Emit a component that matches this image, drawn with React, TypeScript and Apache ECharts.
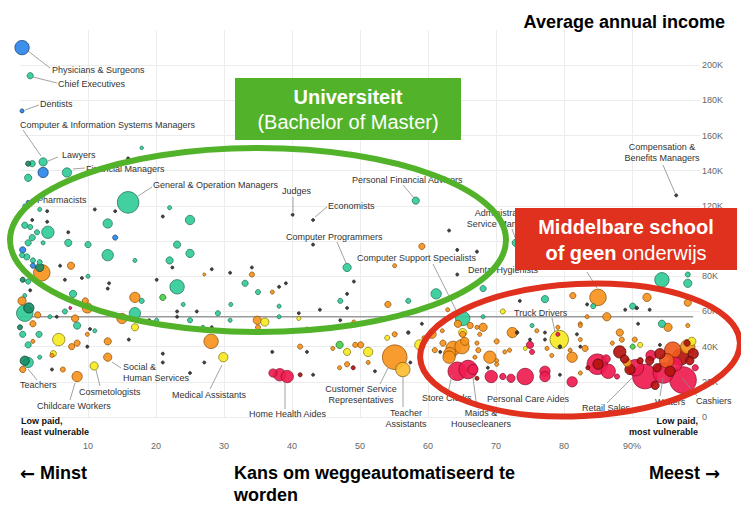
import React, { useEffect, useRef } from "react";
import * as echarts from "echarts";

// [automation probability %, average income (K$), employment (thousands)]
const bachelorGreen = [
  [1.5,194,280],[3.4,145,490],[1.8,144,280],[1.2,136,380],[6.9,139,625],[17.9,153,90],[15.9,122,3400],[0.7,120,120],[2.9,118,120],[0.7,109,280],[1.5,108,190],[4.1,105,1110],[1.8,102,280],[2.5,105,190],[1.2,99,280],[3.4,99,120],[0.3,92,190],[1,91,280],[1.9,89,190],[2.9,88,190],[1.2,77,190],[7.1,99,380],[10,98,280],[12.9,110,625],[12.9,92,930],[10,80,120],[16.9,89,120],[22,119,120],[25,112,625],[23.1,98,380],[25,93,490],[22,89,380],[23.1,74,1510],[33.1,76,280],[0.7,69,120],[0.7,59,1980],[7.8,70,380],[6.6,60,190],[4.4,57,120],[8.4,52,380],[17.9,66,190],[16.9,59,930],[20.1,55,120],[24,64,120],[25,55,190],[29.1,59,190],[31,64,120],[30.9,55,120],[26.9,51,120],[11,49,120],[0.4,47,280],[2.8,47,280],[1.2,41,280],[1.2,31,770],[2.9,34,120],[65.1,56,1510],[61.2,70,770],[57.1,66,190],[68.1,73,280],[77.2,67,380],[75.3,52,120],[94.4,78,1510],[98.2,76,490],[98.2,81,190],[90.1,63,280],[84.3,63,190],[68.1,57,120],[94.4,53,380],[72.9,99,380],[47.1,66,190],[38.1,63,120],[38.1,57,120],[35,71,190],[48.1,85,490],[58.2,123,380]
];
const darkTeal = [[1.2,144,190],[2.9,85,490],[0.4,78,190],[1.3,62,770],[0,51,190],[0.7,32,625]];
const doctoralBlue = [[0.3,210,1510],[0.3,174,120],[3.4,139,770],[1.2,122,120],[0.4,95,280],[1.9,86,190],[14,102,190]];
const orangeJobs = [
  [3.2,82,1980],[7.5,86,380],[27.1,81,60],[34.1,81,190],[0.3,66,490],[2.6,58,280],[1.9,53,280],[9.6,66,280],[9.9,62,770],[8.1,56,380],[16.9,68,770],[15,56,770],[28.1,43,1510],[34.9,55,490],[35,51,190],[12.9,43,380],[12.9,34,490],[1.9,43,120],[0.4,27,280],[4.7,35,120],[6.3,27,190],[7.6,40,280],[8.4,42,280],[9.9,47,120],[8.4,23,770],[41.2,40,190],[46,39,120],[49.3,41,190],[50.1,41,280],[47,28,120],[48.1,30,190],[51.2,31,120],[55.1,34,4440],[55.1,47,190],[61,38,190],[62.2,42,280],[63.2,36,1110],[63.7,39,1510],[65.1,47,280],[66.2,52,280],[67.2,51,120],[67.6,47,120],[62.9,61,120],[81.3,69,280],[59.4,45,120],[60.6,47,490],[62.1,49,120],[64.4,53,380],[65.4,43,490],[65,40,1510],[63.1,34,1110],[68.1,51,490],[67.2,42,120],[67.4,38,190],[66.9,34,120],[69.1,34,1110],[70.1,43,190],[72.4,48,770],[72,38,120],[71.3,37,120],[70.1,32,120],[70.1,30,120],[76,49,120],[77.5,39,120],[78.2,35,120],[80.9,38,120],[81.2,34,770],[82.4,53,120],[82.4,44,120],[82.4,25,120],[87.1,42,120],[89.3,31,490],[90.4,44,190],[88.2,48,380],[88.5,44,190],[83.1,39,280],[85,68,1980],[92.2,68,490],[98.2,65,380],[86.3,57,490],[83.4,57,120],[95.3,51,490],[98.2,52,120],[79.1,51,120],[82.4,52,120],[59.1,97,280],[55.1,86,120],[54.1,64,280],[49.1,54,120],[37.1,71,120],[42.2,50,120],[98.2,40,1510]
];
const yellowJobs = [[16.9,51,380],[36,54,490],[29.9,34,625],[4.9,36,280],[5.7,44,1110],[10.9,29,490],[48.1,37,380],[51.2,37,625],[54,45,190],[58.8,41,770],[71,60,190],[65.1,48,490],[74.3,39,120],[79.3,44,2500],[91.2,41,190],[41,56,120],[98.8,43,490]];
const amberJobs = [[56.3,27,1510]];
const redJobs = [[37.2,25,490],[38.2,24,1110],[39.3,23,1110],[64.3,26,2500],[65.9,27,2500],[66.6,27,770],[75,41,380],[79.1,47,120],[75.3,37,190],[69.3,23,1110],[71,23,280],[72.2,22,490],[74.3,23,1980],[77.2,26,770],[77.2,23,770],[81.2,20,770],[84.9,30,3090],[86.5,26,1510],[87.8,23,190],[91.9,23,4440],[94.6,25,3090],[97.5,21,5220],[99.3,28,280],[90.5,28,1980],[96.3,30,1510],[92.8,35,770],[86.2,33,490]];
const darkRedJobs = [[41.2,24,120],[49,28,120],[67.2,22,120],[83.5,28,120],[85,30,770],[88.2,37,1110],[93.7,28,490],[98.1,42,280],[97.1,34,1980],[98.5,32,490],[94.1,36,770],[89.7,27,770],[92.6,32,490],[95.6,26,770],[91.2,32,280],[93.4,18,490],[99,36,770],[88.9,33,490]];
const orangeRedJobs = [[96,38,1980],[95.1,32,1510]];
const lightGreenJobs = [[21,68,280],[47,41,380],[90.1,40,190]];
const magentaJobs = [[7.4,62,60]];
const tinyJobs = [
  [15.9,147,60],[4,117,60],[1.8,123,60],[1.8,112,60],[4,111,60],[7.1,105,60],[14,117,60],[11,118,60],[5.9,86,60],[6.6,78,60],[9.1,79,60],[13.1,76,60],[12.9,73,60],[21,114,60],[20.1,78,60],[22.4,85,60],[28.2,84,60],[30.9,82,60],[1.5,72,60],[5.4,57,60],[10.3,50,60],[19,55,60],[23.1,60,60],[23.1,57,60],[26,60,60],[28.2,51,60],[4.7,27,60],[9.9,40,60],[16,44,60],[21,36,60],[21,31,60],[25,25,60],[27.1,31,60],[37.1,37,60],[42.2,37,60],[43.1,24,60],[52.2,26,60],[57.4,31,60],[57.1,48,90],[59.1,53,60],[61.8,37,60],[83.4,64,60],[73.1,48,90],[77.2,44,60],[79.4,40,90],[81.9,47,60],[82.4,40,60],[68.8,28,60],[79.4,24,60],[94.1,41,60],[89,61,60],[92.6,61,60],[73.5,66,60],[90.9,53,60],[90.7,62,90],[77.2,48,60],[75,44,60],[96.5,126,60],[63.1,106,60],[64.3,95,60],[67.2,94,60],[64.3,81,60],[47.1,55,60],[48.1,70,60],[48.1,62,60],[49.1,77,60],[44.1,61,60],[41,59,60],[34.1,85,60],[38.1,74,60],[39.1,76,60],[40.1,115,60],[43.1,112,60],[43.1,98,60]
];
const averageIncome = 57;
const xTicks = [10, 20, 30, 40, 50, 60, 70, 80, 90];
const yHiddenTicks = [100, 220];

const groups: [number[][], string, string][] = [
  [bachelorGreen, "#33cc99", "#1d6e52"],
  [darkTeal, "#1a8c66", "#0c3d2c"],
  [doctoralBlue, "#2c86ea", "#123f73"],
  [orangeJobs, "#f7941d", "#8a4c05"],
  [yellowJobs, "#f6e925", "#7d7405"],
  [amberJobs, "#fbbd33", "#7d5a05"],
  [redJobs, "#ef1c50", "#8a0c2a"],
  [darkRedJobs, "#b5140f", "#4a0505"],
  [orangeRedJobs, "#ef5a1e", "#7a2405"],
  [lightGreenJobs, "#46d04b", "#1f6a22"],
  [magentaJobs, "#e8207e", "#6a0a38"],
  [tinyJobs, "#333333", "#222222"],
];

const FONT = "'Liberation Sans', Arial, sans-serif";
const ARROW_FONT = "'DejaVu Sans', sans-serif";

function txt(text: string, x: number, y: number, opts: any = {}) {
  return {
    type: "text", x, y, z: 50,
    style: {
      text, fill: opts.fill || "#333", fontSize: opts.size || 9, fontWeight: opts.weight || "normal",
      fontFamily: FONT, align: opts.align || "left", verticalAlign: "middle", rich: opts.rich,
    },
  };
}
function ln(x1: number, y1: number, x2: number, y2: number) {
  return { type: "line", z: 49, shape: { x1, y1, x2, y2 }, style: { stroke: "#8a8a8a", lineWidth: 0.8 } };
}

export default function App() {
  const ref = useRef<HTMLDivElement>(null);
  useEffect(() => {
    const chart = echarts.init(ref.current!, null, { renderer: "svg" });
    const points: any[] = [];
    groups.forEach(([arr, color, border]) => {
      arr.forEach((d) => points.push({ value: d, itemStyle: { color, borderColor: border } }));
    });
    points.sort((a, b) => b.value[2] - a.value[2]);

    const xSplitColors = Array.from({ length: 11 }, (_, i) => (i === 0 || i === 10 ? "rgba(0,0,0,0)" : "#ececec"));
    const ySplitColors = Array.from({ length: 12 }, (_, i) => (i === 11 ? "rgba(0,0,0,0)" : "#ececec"));
    const bigBold = { size: 18, weight: "bold", fill: "#000" };
    const arrowRich = {
      a: { fontSize: 18, fontWeight: "bold", fontFamily: ARROW_FONT, fill: "#000" },
      t: { fontSize: 18, fontWeight: "bold", fontFamily: FONT, fill: "#000" },
    };

    const graphic: any[] = [
      // annotations
      txt("Physicians & Surgeons", 52, 70), ln(28, 51, 50, 68),
      txt("Chief Executives", 58, 84), ln(33, 77, 57, 83),
      txt("Dentists", 40, 104), ln(25, 110, 39, 105),
      txt("Computer & Information Systems Managers", 20, 125), ln(23, 130, 41, 156),
      txt("Lawyers", 62, 155), ln(58, 157, 48, 161),
      txt("Financial Managers", 86, 169), ln(73, 169, 85, 168),
      txt("Pharmacists", 37, 200),
      txt("General & Operation Managers", 153, 185), ln(138, 196, 152, 187),
      txt("Judges", 282, 191), ln(293, 197, 293, 212),
      txt("Economists", 328, 206), ln(315, 217, 327, 207),
      txt("Computer Programmers", 286, 237), ln(337, 242, 346, 263),
      txt("Personal Financial Advisors", 352, 180), ln(403, 185, 414, 198),
      txt("Computer Support Specialists", 357, 258), ln(433, 264, 457, 312),
      txt("Administrative", 503, 213, { align: "center" }), txt("Service Managers", 503, 224, { align: "center" }), ln(512, 229, 516, 240),
      txt("Dental Hygienists", 468, 270), ln(587, 272, 597, 288),
      txt("Compensation &", 662, 147, { align: "center" }), txt("Benefits Managers", 662, 158, { align: "center" }), ln(663, 165, 675, 193),
      txt("Truck Drivers", 514, 313), ln(552, 318, 555, 332),
      txt("Teachers", 20, 385), ln(28, 369, 37, 380),
      txt("Cosmetologists", 79, 392), ln(96, 370, 100, 386),
      txt("Childcare Workers", 37, 406), ln(75, 383, 70, 400),
      txt("Social &", 123, 367), txt("Human Services", 123, 378), ln(112, 362, 121, 368),
      txt("Medical Assistants", 172, 395), ln(222, 365, 210, 389),
      txt("Home Health Aides", 249, 414), ln(285, 382, 285, 409),
      txt("Customer Service", 361, 389, { align: "center" }), txt("Representatives", 361, 400, { align: "center" }), ln(388, 368, 380, 384),
      txt("Teacher", 406, 413, { align: "center" }), txt("Assistants", 406, 424, { align: "center" }), ln(403, 377, 403, 407),
      txt("Store Clerks", 422, 398), ln(452, 375, 448, 393),
      txt("Maids &", 481, 413, { align: "center" }), txt("Housecleaners", 481, 424, { align: "center" }), ln(473, 378, 477, 408),
      txt("Personal Care Aides", 487, 399),
      txt("Retail Sales", 582, 408), ln(607, 403, 632, 378),
      txt("Waiters", 655, 402), ln(660, 396, 663, 378),
      txt("Cashiers", 696, 401), ln(697, 396, 682, 378),
      txt("Low paid,", 21, 421, { weight: "bold", fill: "#111" }),
      txt("least vulnerable", 21, 432, { weight: "bold", fill: "#111" }),
      txt("Low paid,", 698, 421, { weight: "bold", fill: "#111", align: "right" }),
      txt("most vulnerable", 698, 432, { weight: "bold", fill: "#111", align: "right" }),
      // ellipses
      { type: "ellipse", x: 258, y: 240, z: 60, shape: { cx: 0, cy: 0, rx: 248, ry: 92 }, style: { fill: "transparent", stroke: "#52b32a", lineWidth: 6 } },
      { type: "ellipse", x: 580, y: 350, z: 60, rotation: 0.05, shape: { cx: 0, cy: 0, rx: 160, ry: 66 }, style: { fill: "transparent", stroke: "#e0301e", lineWidth: 6 } },
      // boxes
      { type: "rect", z: 70, shape: { x: 235, y: 78, width: 226, height: 62 }, style: { fill: "#52b32a" } },
      { ...txt("Universiteit", 348, 97, { size: 20, weight: "bold", fill: "#fff", align: "center" }), z: 71 },
      { ...txt("(Bachelor of Master)", 348, 122, { size: 20, fill: "#fff", align: "center" }), z: 71 },
      { type: "rect", z: 70, shape: { x: 515, y: 208, width: 222, height: 62 }, style: { fill: "#e0301e" } },
      { ...txt("Middelbare school", 626, 227, { size: 20, weight: "bold", fill: "#fff", align: "center" }), z: 71 },
      { ...txt("{b|of geen} {n|onderwijs}", 626, 253, { size: 20, fill: "#fff", align: "center",
          rich: { b: { fontSize: 20, fontWeight: "bold", fill: "#fff", fontFamily: FONT }, n: { fontSize: 20, fill: "#fff", fontFamily: FONT } } }), z: 71 },
      // titles
      txt("Average annual income", 725, 22, { size: 18, weight: "bold", fill: "#000", align: "right" }),
      txt("{a|←} {t|Minst}", 20, 473, { ...bigBold, rich: arrowRich }),
      txt("Kans om weggeautomatiseerd te", 234, 473, bigBold),
      txt("worden", 234, 495, bigBold),
      txt("{t|Meest} {a|→}", 720, 473, { ...bigBold, align: "right", rich: arrowRich }),
    ];

    chart.setOption({
      animation: false,
      grid: { left: 20, right: 41, top: 30, bottom: 89 },
      xAxis: {
        type: "value", min: 0, max: 100, interval: 10,
        axisLine: { show: false }, axisTick: { show: false },
        axisLabel: {
          margin: 24, fontSize: 9, color: "#666", fontFamily: FONT,
          formatter: (v: number) => (xTicks.includes(v) ? (v === 90 ? "90%" : String(v)) : ""),
        },
        splitLine: { lineStyle: { color: xSplitColors, width: 1 } },
      },
      yAxis: {
        type: "value", position: "right", min: 0, max: 220, interval: 20,
        axisLine: { show: false }, axisTick: { show: false },
        axisLabel: {
          margin: 2, fontSize: 9, color: "#666", fontFamily: FONT,
          formatter: (v: number) => (v === 0 ? "0" : yHiddenTicks.includes(v) ? "" : v + "K"),
        },
        splitLine: { lineStyle: { color: ySplitColors, width: 1 } },
      },
      series: [
        {
          type: "line", z: 1, symbol: "none", silent: true,
          data: [[0, averageIncome], [99, averageIncome]],
          lineStyle: { color: "#9a9a9a", width: 1.5 },
        },
        {
          type: "scatter", z: 2, silent: true,
          symbolSize: (v: number[]) => Math.max(3, Math.sqrt(v[2]) * 0.37),
          itemStyle: { borderWidth: 0.8, opacity: 0.92 },
          data: points,
        },
      ],
      graphic,
    });
    return () => chart.dispose();
  }, []);
  return <div ref={ref} style={{ position: "fixed", left: 0, top: 0, width: 741, height: 506, background: "#fff" }} />;
}
